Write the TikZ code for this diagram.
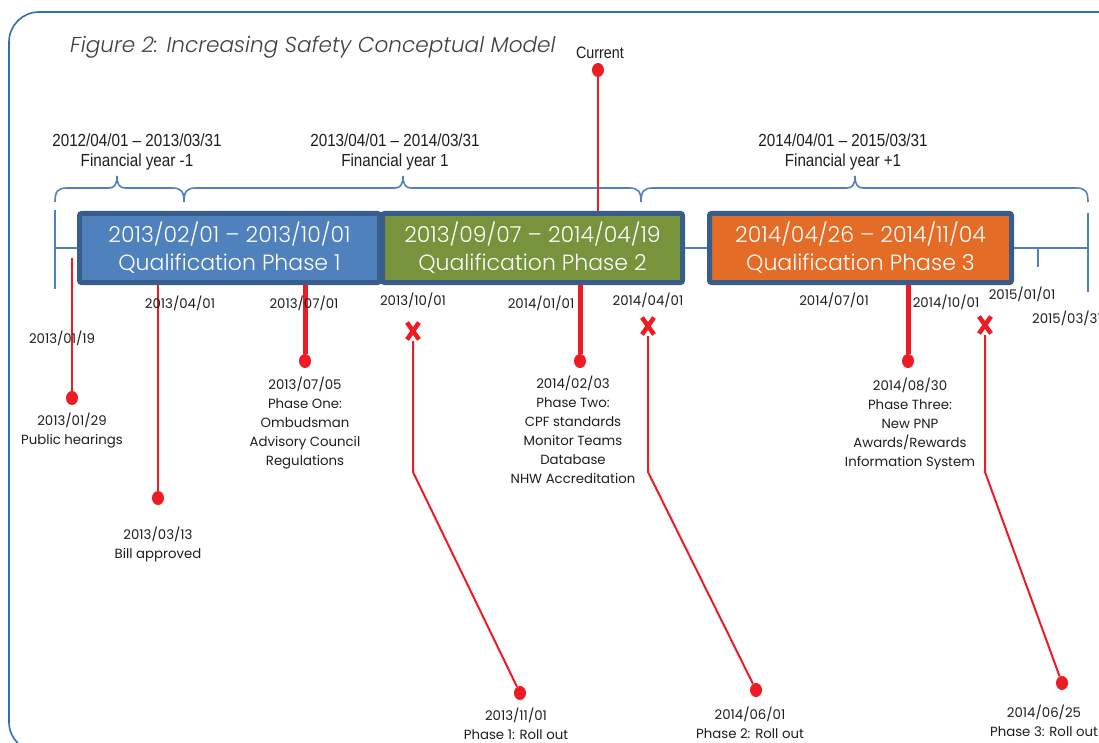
\documentclass[tikz,border=0pt]{standalone}
\usepackage{fontspec}
\setmainfont{Poppins}
\newfontfamily\lightfont{Poppins Light}[ItalicFont={Poppins Light Italic}]
\newfontfamily\narrowfont{Liberation Sans}[FakeStretch=0.87]
\usetikzlibrary{shapes.geometric}
\definecolor{framec}{RGB}{46,110,180}
\definecolor{axisc}{RGB}{79,129,189}
\definecolor{bordc}{RGB}{56,93,138}
\definecolor{bluef}{RGB}{79,129,189}
\definecolor{greenf}{RGB}{119,147,60}
\definecolor{orangef}{RGB}{228,108,38}
\definecolor{evred}{RGB}{237,28,36}
\definecolor{txt}{RGB}{30,30,30}
\definecolor{titlec}{RGB}{64,64,64}
\newcommand\fybrace[3]{% left, tip, right
  \draw[axisline] (#1,202) .. controls (#1,191) and (#1+3,188) .. (#1+12,188)
    -- (#2-8,188) .. controls (#2-3,188) and (#2,185) .. (#2,176)
    .. controls (#2,185) and (#2+3,188) .. (#2+8,188)
    -- (#3-12,188) .. controls (#3-3,188) and (#3,191) .. (#3,202);}
\newcommand\xmark[2]{%
  \draw[xline] (#1-6,#2-8.5) -- (#1+6,#2+8.5);
  \draw[xline] (#1+6,#2-8.5) -- (#1-6,#2+8.5);}
\begin{document}
\begin{tikzpicture}[x=1pt,y=-1pt,
  axisline/.style={draw=axisc,line width=1.6pt},
  bar/.style={draw=bordc,line width=5pt,rounded corners=2pt,minimum height=69pt,
    inner sep=0pt,text=white,align=center,font=\lightfont\fontsize{22}{28}\selectfont},
  lbl/.style={font=\fontsize{13.3}{19}\selectfont,align=center,text=txt,inner sep=0pt},
  fy/.style={font=\narrowfont\fontsize{17.5}{20}\selectfont,align=center,text=txt,inner sep=0pt},
  evdot/.style={ellipse,fill=evred,minimum width=12pt,minimum height=14pt,inner sep=0pt},
  thinred/.style={draw=evred,line width=2pt},
  thickred/.style={draw=evred,line width=5pt},
  xline/.style={draw=evred,line width=4.5pt}]
\useasboundingbox (0,0) rectangle (1099,743);
% frame
\draw[framec,line width=1.6pt,rounded corners=30pt] (9,12) rectangle (1135,752);
% title
\node[anchor=base west,inner sep=0pt,text=titlec,font=\lightfont\itshape\fontsize{21.6}{24}\selectfont] (title) at (70,53) {Figure 2: Increasing Safety Conceptual Model};
% financial years
\fybrace{55}{117}{184}
\fybrace{184}{403}{641}
\fybrace{641}{855}{1088}
\node[fy] (fy1) at (137,152) {2012/04/01 – 2013/03/31\\Financial year -1};
\node[fy] (fy2) at (395,152) {2013/04/01 – 2014/03/31\\Financial year 1};
\node[fy] (fy3) at (843,152) {2014/04/01 – 2015/03/31\\Financial year +1};
% axis
\coordinate (axl) at (55,248);
\coordinate (axr) at (1088,248);
\draw[axisline] (axl) -- (axr);
\draw[axisline] (55,210) -- (55,289);
\draw[axisline] (1088,213) -- (1088,292);
\draw[axisline] (1038,248) -- (1038,267);
% bars
\node[bar,fill=bluef,minimum width=300pt] (b1) at (229.5,248) {2013/02/01 – 2013/10/01\\Qualification Phase 1};
\node[bar,fill=greenf,minimum width=300pt] (b2) at (532.5,248) {2013/09/07 – 2014/04/19\\Qualification Phase 2};
\node[bar,fill=orangef,minimum width=302pt] (b3) at (860.5,248) {2014/04/26 – 2014/11/04\\Qualification Phase 3};
% current
\node[font=\narrowfont\fontsize{16.5}{18}\selectfont,text=txt,inner sep=0pt] (curt) at (600,53) {Current};
\node[evdot] (cur) at (598,70) {};
\draw[thinred] (cur) -- (cur |- b2.north);
% event 1
\coordinate (s1) at (72,258);
\node[evdot] (d1) at (72,398) {};
\draw[thinred] (s1) -- (d1);
\node[lbl] (t1b) at (62,338) {2013/01/19};
\node[lbl] (t1) at (72,430.5) {2013/01/29\\Public hearings};
% event 2
\node[evdot] (d2) at (158,498) {};
\draw[thinred] (b1.south -| d2) -- (d2);
\node[lbl] (t2a) at (180,303) {2013/04/01};
\node[lbl] (t2) at (158,544.5) {2013/03/13\\Bill approved};
% event 3
\node[evdot] (d3) at (305,361) {};
\draw[thickred] (b1.south -| d3) -- (d3);
\node[lbl] (t3a) at (304,303) {2013/07/01};
\node[lbl] (t3) at (305,423.5) {2013/07/05\\Phase One:\\Ombudsman\\Advisory Council\\Regulations};
% event 4
\node[lbl] (t4a) at (413,300) {2013/10/01};
\xmark{413}{331}
\coordinate (x4) at (413,341);
\coordinate (k4) at (413,472);
\node[evdot] (d4) at (520,693) {};
\draw[thinred] (x4) -- (k4) -- (d4);
\node[lbl] (t4) at (516,723.5) {2013/11/01\\Phase 1: Roll out};
% event 5
\node[evdot] (d5) at (580,361) {};
\draw[thickred] (b2.south -| d5) -- (d5);
\node[lbl] (t5a) at (541,303) {2014/01/01};
\node[lbl] (t5) at (573,430) {2014/02/03\\Phase Two:\\CPF standards\\Monitor Teams\\Database\\NHW Accreditation};
% event 6
\node[lbl] (t6a) at (648,300) {2014/04/01};
\xmark{648}{326}
\coordinate (x6) at (648,336);
\coordinate (k6) at (648,472);
\node[evdot] (d6) at (756,690) {};
\draw[thinred] (x6) -- (k6) -- (d6);
\node[lbl] (t6) at (750,723) {2014/06/01\\Phase 2: Roll out};
% event 7
\node[evdot] (d7) at (908,361) {};
\draw[thickred] (b3.south -| d7) -- (d7);
\node[lbl] (t7a) at (834,300) {2014/07/01};
\node[lbl] (t7b) at (946,302) {2014/10/01};
\node[lbl] (t7) at (910,423.5) {2014/08/30\\Phase Three:\\New PNP\\Awards/Rewards\\Information System};
% event 8
\node[lbl] (t8a) at (1022,294) {2015/01/01};
\node[lbl,anchor=west] (t8b) at (1032,318) {2015/03/31};
\xmark{985}{325}
\coordinate (x8) at (985,335);
\coordinate (k8) at (985,472);
\node[evdot] (d8) at (1062,683) {};
\draw[thinred] (x8) -- (k8) -- (d8);
\node[lbl] (t8) at (1044,720.5) {2014/06/25\\Phase 3: Roll out};
\end{tikzpicture}
\end{document}
